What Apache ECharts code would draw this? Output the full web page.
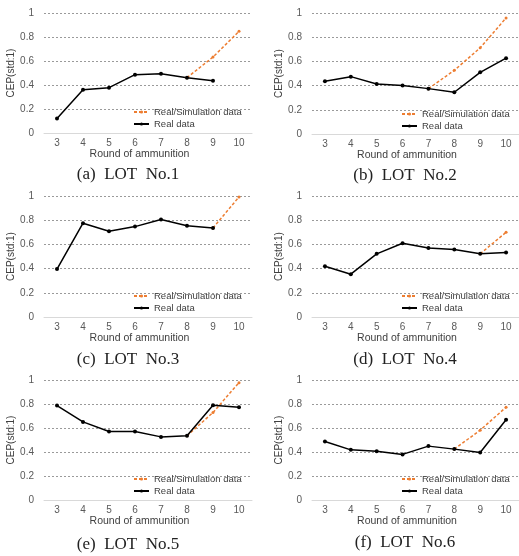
<!DOCTYPE html>
<html>
<head>
<meta charset="utf-8">
<script src="https://cdn.jsdelivr.net/npm/echarts@6/dist/echarts.min.js"></script>
<style>
  html, body { margin: 0; padding: 0; background: #fff; }
  #chart { width: 519px; height: 556px; }
</style>
</head>
<body>
<div id="chart"></div>
<script>
// 横轴: 弹药轮次
var rounds = ['3', '4', '5', '6', '7', '8', '9', '10'];
var yTicks = [0, 0.2, 0.4, 0.6, 0.8, 1];

// 各批次实测数据 (Real data)
var realLot1 = [0.12, 0.36, 0.378, 0.486, 0.494, 0.461, 0.436, null];
var realLot2 = [0.436, 0.474, 0.414, 0.40, 0.375, 0.345, 0.51, 0.627];
var realLot3 = [0.396, 0.775, 0.709, 0.747, 0.805, 0.755, 0.736, null];
var realLot4 = [0.42, 0.354, 0.522, 0.61, 0.571, 0.558, 0.522, 0.533];
var realLot5 = [0.787, 0.651, 0.571, 0.571, 0.526, 0.535, 0.79, 0.773];
var realLot6 = [0.488, 0.418, 0.407, 0.38, 0.449, 0.424, 0.396, 0.668];

// 实测/仿真数据 (Real/Simulation data)
var simLot1 = [null, null, null, null, null, 0.461, 0.633, 0.847];
var simLot2 = [null, null, null, null, 0.375, 0.526, 0.712, 0.959];
var simLot3 = [null, null, null, null, null, null, 0.736, 0.992];
var simLot4 = [null, null, null, null, null, null, 0.522, 0.70];
var simLot5 = [null, null, null, null, null, 0.535, 0.729, 0.978];
var simLot6 = [null, null, null, null, null, 0.424, 0.582, 0.773];

var captions = ['(a)  LOT  No.1', '(b)  LOT  No.2', '(c)  LOT  No.3',
                '(d)  LOT  No.4', '(e)  LOT  No.5', '(f)  LOT  No.6'];

var realAll = [realLot1, realLot2, realLot3, realLot4, realLot5, realLot6];
var simAll = [simLot1, simLot2, simLot3, simLot4, simLot5, simLot6];

// 面板布局 (像素)
var panels = [
    { left: 44,  top: 13,  height: 120, legendX: 133, legendY: 107, capX: 128, capY: 175 },
    { left: 312, top: 13,  height: 121, legendX: 401, legendY: 109, capX: 405, capY: 176 },
    { left: 44,  top: 196, height: 121, legendX: 133, legendY: 291, capX: 128, capY: 360 },
    { left: 312, top: 196, height: 121, legendX: 401, legendY: 291, capX: 405, capY: 360 },
    { left: 44,  top: 380, height: 120, legendX: 133, legendY: 474, capX: 128, capY: 545 },
    { left: 312, top: 380, height: 120, legendX: 401, legendY: 474, capX: 405, capY: 543 }
];

var SIM_NAME = 'Real/Simulation data';
var REAL_NAME = 'Real data';
var labelColor = '#595959';

var grids = [], xAxes = [], yAxes = [], series = [], legends = [], graphics = [];

panels.forEach(function (p, i) {
    grids.push({ left: p.left, top: p.top, width: 208, height: p.height });

    xAxes.push({
        type: 'category',
        gridIndex: i,
        data: rounds,
        boundaryGap: true,
        axisTick: { show: false },
        axisLine: { lineStyle: { color: '#d9d9d9', width: 1 } },
        axisLabel: { color: labelColor, fontSize: 10, margin: 5, fontFamily: 'Liberation Sans' },
        name: 'Round of ammunition',
        nameLocation: 'middle',
        nameGap: 12,
        nameTextStyle: { color: '#404040', fontSize: 10.5, fontFamily: 'Liberation Sans', padding: [0, 17, 0, 0] }
    });

    yAxes.push({
        type: 'value',
        gridIndex: i,
        min: 0,
        max: 1,
        interval: 0.2,
        axisLine: { show: false },
        axisTick: { show: false },
        axisLabel: { color: labelColor, fontSize: 10, margin: 10, fontFamily: 'Liberation Sans' },
        splitLine: { lineStyle: { color: '#9a9a9a', type: [2, 2], width: 1 } },
        name: 'CEP(std:1)',
        nameLocation: 'middle',
        nameGap: 23,
        nameTextStyle: { color: '#404040', fontSize: 10, fontFamily: 'Liberation Sans' }
    });

    series.push({
        name: SIM_NAME,
        type: 'line',
        xAxisIndex: i,
        yAxisIndex: i,
        data: simAll[i],
        symbol: 'circle',
        symbolSize: 3,
        itemStyle: { color: '#ed7d31' },
        lineStyle: { color: '#ed7d31', width: 1.5, type: [3, 2] },
        animation: false
    });
    series.push({
        name: REAL_NAME,
        type: 'line',
        xAxisIndex: i,
        yAxisIndex: i,
        data: realAll[i],
        symbol: 'circle',
        symbolSize: 4,
        itemStyle: { color: '#000' },
        lineStyle: { color: '#000', width: 1.5 },
        animation: false
    });

    legends.push({
        data: [SIM_NAME, REAL_NAME],
        orient: 'vertical',
        left: p.legendX,
        top: p.legendY,
        itemWidth: 15,
        itemHeight: 4,
        itemGap: 2,
        padding: 0,
        textStyle: { color: '#404040', fontSize: 9.5, fontFamily: 'Liberation Sans' }
    });

    graphics.push({
        type: 'text',
        x: p.capX,
        y: p.capY,
        style: {
            text: captions[i],
            fill: '#222',
            font: '17px "Liberation Serif"',
            textAlign: 'center',
            textVerticalAlign: 'middle'
        }
    });
});

var chart = echarts.init(document.getElementById('chart'));
chart.setOption({
    backgroundColor: '#fff',
    animation: false,
    grid: grids,
    xAxis: xAxes,
    yAxis: yAxes,
    legend: legends,
    series: series,
    graphic: graphics
});
</script>
</body>
</html>
